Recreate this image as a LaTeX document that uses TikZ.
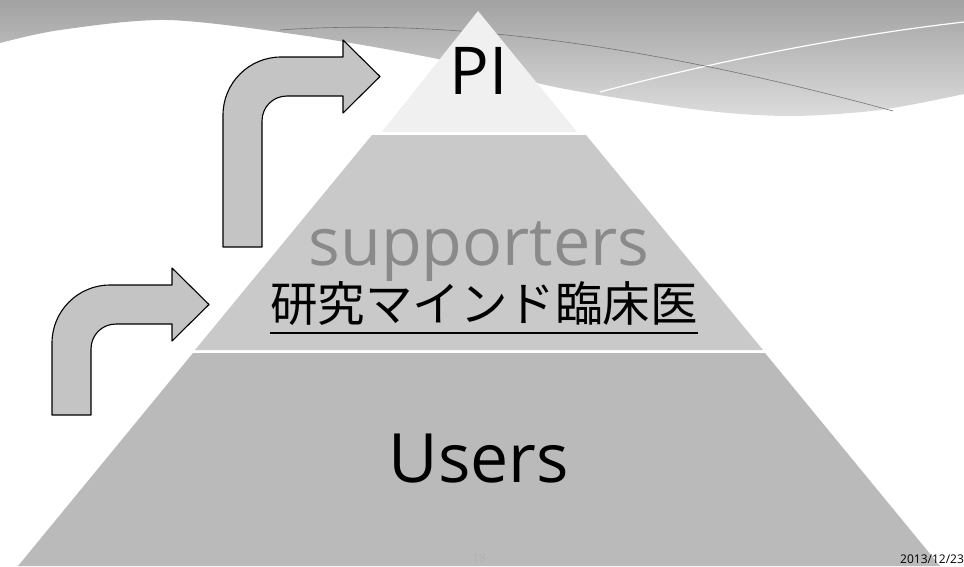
\documentclass[tikz,border=0pt]{standalone}
\usepackage{fontspec}
\setmainfont{Open Sans}
\newfontfamily\jpfont{Noto Sans CJK JP}
\definecolor{swoopdark}{HTML}{A2A2A2}
\definecolor{swooplight}{HTML}{DCDCDC}
\definecolor{tiertop}{HTML}{F0F0F0}
\definecolor{tiermid}{HTML}{C9C9C9}
\definecolor{tierlow}{HTML}{BABABA}
\definecolor{arrowgray}{HTML}{C4C4C4}
\definecolor{supgray}{HTML}{8A8A8A}
\newcommand{\bentarrow}[3]{%
  \draw[bentarrow] (#1,#2) -- (#1,{#3+58}) .. controls (#1,{#3+26}) and ({#1+26},#3) .. ({#1+58},#3)
    -- ({#1+120},#3) -- ({#1+120},{#3-17}) -- ({#1+157},{#3+19.5}) -- ({#1+120},{#3+56})
    -- ({#1+120},{#3+39}) -- ({#1+64},{#3+39}) .. controls ({#1+50},{#3+39}) and ({#1+39},{#3+50}) .. ({#1+39},{#3+64})
    -- ({#1+39},#2) -- cycle;}
\begin{document}
\begin{tikzpicture}[x=1pt,y=-1pt,line join=round,
    bentarrow/.style={fill=arrowgray,draw=black,line width=1.1pt},
    label/.style={anchor=base,inner sep=0pt}]
\useasboundingbox[fill=white] (0,0) rectangle (964,566);
\shade[top color=swoopdark,bottom color=swooplight] (0,0) -- (964,0) -- plot[smooth] coordinates
    {(964,94) (880,110) (790,116) (700,110) (560,88) (433,58) (300,35) (167,20) (60,30) (0,43)} -- cycle;
\draw[white,line width=1.2pt] (600,92) .. controls (720,60) and (850,35) .. (964,22);
\draw[black!55,line width=0.6pt] (280,30) .. controls (450,18) and (650,45) .. (893,111);
\fill[tiertop] (478,11) -- (577,132) -- (382,132) -- cycle;
\fill[tiermid] (372,135) -- (586,135) -- (763,350) -- (195,350) -- cycle;
\fill[tierlow] (193,353) -- (765,353) -- (940,566) -- (18,566) -- cycle;
\bentarrow{223}{247}{57}
\bentarrow{52}{415}{285}
\node[label,font=\fontsize{66}{70}\selectfont] (pi) at (479,94) {PI};
\node[label,font=\fontsize{66.5}{72}\selectfont,text=supgray] (sup) at (479,265) {supporters};
\node[label,font=\jpfont\fontsize{47.5}{52}\selectfont] (jp) at (484,321) {研究マインド臨床医};
\draw[line width=2.5pt] ([yshift=-12pt]jp.base west) -- ([yshift=-12pt]jp.base east);
\node[label,font=\fontsize{68}{72}\selectfont] (users) at (479,482) {Users};
\node[label,anchor=base west,font=\fontsize{12}{13}\selectfont] (date) at (900,563) {2013/12/23};
\node[label,font=\fontsize{12}{13}\selectfont,text=gray!60] (page) at (479,562) {18};
\end{tikzpicture}
\end{document}
